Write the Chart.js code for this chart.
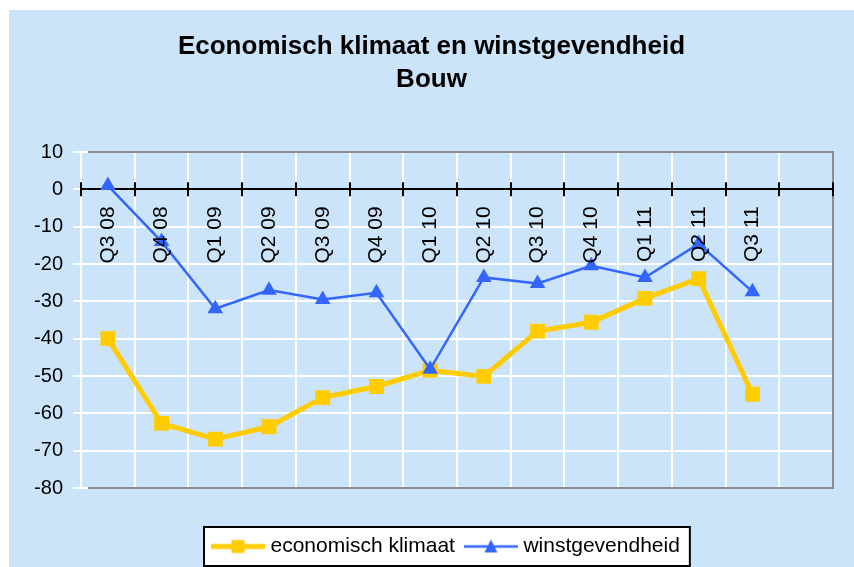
<!DOCTYPE html>
<html>
<head>
<meta charset="utf-8">
<script src="https://cdn.jsdelivr.net/npm/chart.js@4"></script>
<style>
  html, body { margin: 0; padding: 0; background: #ffffff; }
  #wrap { width: 854px; height: 567px; }
</style>
</head>
<body>
<div id="wrap"><canvas id="c" width="854" height="567"></canvas></div>
<script>
const titleLines = ['Economisch klimaat en winstgevendheid', 'Bouw'];
const categories = ['Q3 08', 'Q4 08', 'Q1 09', 'Q2 09', 'Q3 09', 'Q4 09', 'Q1 10', 'Q2 10', 'Q3 10', 'Q4 10', 'Q1 11', 'Q2 11', 'Q3 11', ''];
const klimaat = [-40, -62.7, -66.9, -63.6, -55.8, -52.8, -48.5, -50.1, -38, -35.6, -29.2, -23.9, -54.9];
const winst = [1, -14, -32, -27, -29.5, -27.7, -48.2, -23.6, -25.2, -20.5, -23.6, -14.6, -27.4];
const seriesNames = ['economisch klimaat', 'winstgevendheid'];
const yMin = -80, yMax = 10, yStep = 10;

const BG = '#CCE4FA';
const YELLOW = '#FFCC00';
const BLUE = '#3366FF';
const FONT = "'Liberation Sans', Arial, sans-serif";

function legendSymbol(color, lw, style) {
  const c = document.createElement('canvas');
  c.width = 54; c.height = 18;
  const g = c.getContext('2d');
  g.strokeStyle = color; g.lineWidth = lw;
  g.beginPath(); g.moveTo(0, 9); g.lineTo(54, 9); g.stroke();
  g.fillStyle = color;
  if (style === 'rect') {
    g.fillRect(27 - 6.5, 9 - 6.5, 13, 13);
  } else {
    g.beginPath(); g.moveTo(27, 2); g.lineTo(33.5, 15); g.lineTo(20.5, 15); g.closePath(); g.fill();
  }
  return c;
}
const symYellow = legendSymbol(YELLOW, 5, 'rect');
const symBlue = legendSymbol(BLUE, 2.5, 'tri');

const decorPlugin = {
  id: 'decor',
  afterLayout(chart) {
    // place the legend row so that it starts at the same spot as in the reference
    const lg = chart.legend;
    if (lg && lg.lineWidths && lg.lineWidths.length) {
      const pad = lg.options.labels.padding;
      const target = 216;
      const shift = (2 * target - pad + lg.lineWidths[0] - (lg.left + lg.right)) / 2;
      lg.left += shift;
      lg.right += shift;
    }
  },
  beforeDraw(chart) {
    const ctx = chart.ctx;
    ctx.save();
    ctx.fillStyle = BG;
    ctx.fillRect(9, 10, chart.width - 9, chart.height - 10);
    const lg = chart.legend;
    if (lg && lg.legendHitBoxes && lg.legendHitBoxes.length) {
      const hb = lg.legendHitBoxes;
      const first = hb[0], last = hb[hb.length - 1];
      const l = first.left - 12, r = last.left + last.width + 10;
      const t = first.top - 9, b = first.top + first.height + 9;
      ctx.fillStyle = '#ffffff';
      ctx.fillRect(l, t, r - l, b - t);
      ctx.strokeStyle = '#000000';
      ctx.lineWidth = 2;
      ctx.strokeRect(l, t, r - l, b - t);
    }
    ctx.restore();
  },
  beforeDatasetsDraw(chart) {
    const ctx = chart.ctx;
    const a = chart.chartArea;
    const xs = chart.scales.x, ys = chart.scales.y;
    ctx.save();
    // grey plot border (top, right, bottom)
    ctx.strokeStyle = '#8C8C8C';
    ctx.lineWidth = 2;
    ctx.beginPath();
    ctx.moveTo(a.left + 7, a.top); ctx.lineTo(a.right, a.top);
    ctx.lineTo(a.right, a.bottom); ctx.lineTo(a.left + 7, a.bottom);
    ctx.stroke();
    // black tick marks crossing the zero line
    const y0 = ys.getPixelForValue(0);
    ctx.strokeStyle = '#000000';
    ctx.lineWidth = 2;
    ctx.beginPath();
    for (let i = 0; i <= categories.length; i++) {
      const x = Math.round(xs.getPixelForValue(i - 0.5));
      ctx.moveTo(x, y0 - 7); ctx.lineTo(x, y0 + 7);
    }
    ctx.stroke();
    ctx.restore();
  }
};

new Chart(document.getElementById('c'), {
  type: 'line',
  data: {
    labels: categories,
    datasets: [
      {
        label: seriesNames[0],
        data: klimaat,
        borderColor: YELLOW,
        backgroundColor: YELLOW,
        borderWidth: 5,
        pointStyle: 'rect',
        pointRadius: 10.5,
        pointBorderWidth: 0,
        pointBackgroundColor: YELLOW,
        tension: 0,
        order: 1
      },
      {
        label: seriesNames[1],
        data: winst,
        borderColor: BLUE,
        backgroundColor: BLUE,
        borderWidth: 2.5,
        pointStyle: 'triangle',
        pointRadius: 9,
        pointBorderWidth: 0,
        pointBackgroundColor: BLUE,
        tension: 0,
        order: 0
      }
    ]
  },
  options: {
    responsive: false,
    animation: false,
    devicePixelRatio: 1,
    layout: { padding: { top: 10, left: 30, right: 21, bottom: 0 } },
    plugins: {
      title: {
        display: true,
        text: titleLines,
        color: '#000000',
        font: { family: FONT, size: 26, weight: 'bold', lineHeight: 1.3 },
        padding: { top: 19.5, bottom: 54.9 }
      },
      subtitle: {
        display: true,
        text: '',
        position: 'bottom',
        weight: 500,
        font: { family: FONT, size: 34, lineHeight: 1 },
        padding: 0
      },
      legend: {
        display: true,
        position: 'bottom',
        maxHeight: 47,
        labels: {
          usePointStyle: true,
          pointStyleWidth: 44,
          padding: 14,
          color: '#000000',
          font: { family: FONT, size: 21 },
          generateLabels() {
            return [
              { text: seriesNames[0], pointStyle: symYellow, fillStyle: YELLOW, strokeStyle: YELLOW, lineWidth: 0, datasetIndex: 0, hidden: false, fontColor: '#000000' },
              { text: seriesNames[1], pointStyle: symBlue, fillStyle: BLUE, strokeStyle: BLUE, lineWidth: 0, datasetIndex: 1, hidden: false, fontColor: '#000000' }
            ];
          }
        }
      },
      tooltip: { enabled: false }
    },
    scales: {
      x: {
        type: 'category',
        position: { y: 0 },
        offset: true,
        grid: { color: '#ffffff', lineWidth: 2, offset: true, drawTicks: false },
        border: { color: '#000000', width: 2 },
        ticks: {
          autoSkip: false,
          minRotation: 90,
          maxRotation: 90,
          padding: 17,
          color: '#000000',
          font: { family: FONT, size: 21 },
          z: 1
        }
      },
      y: {
        min: yMin,
        max: yMax,
        afterFit(s) { s.width = 51; },
        grid: { color: '#ffffff', lineWidth: 2, tickLength: 8, tickColor: '#ffffff' },
        border: { color: '#ffffff', width: 2 },
        ticks: {
          stepSize: yStep,
          padding: 10,
          color: '#000000',
          font: { family: FONT, size: 20 }
        }
      }
    }
  },
  plugins: [decorPlugin]
});
</script>
</body>
</html>
